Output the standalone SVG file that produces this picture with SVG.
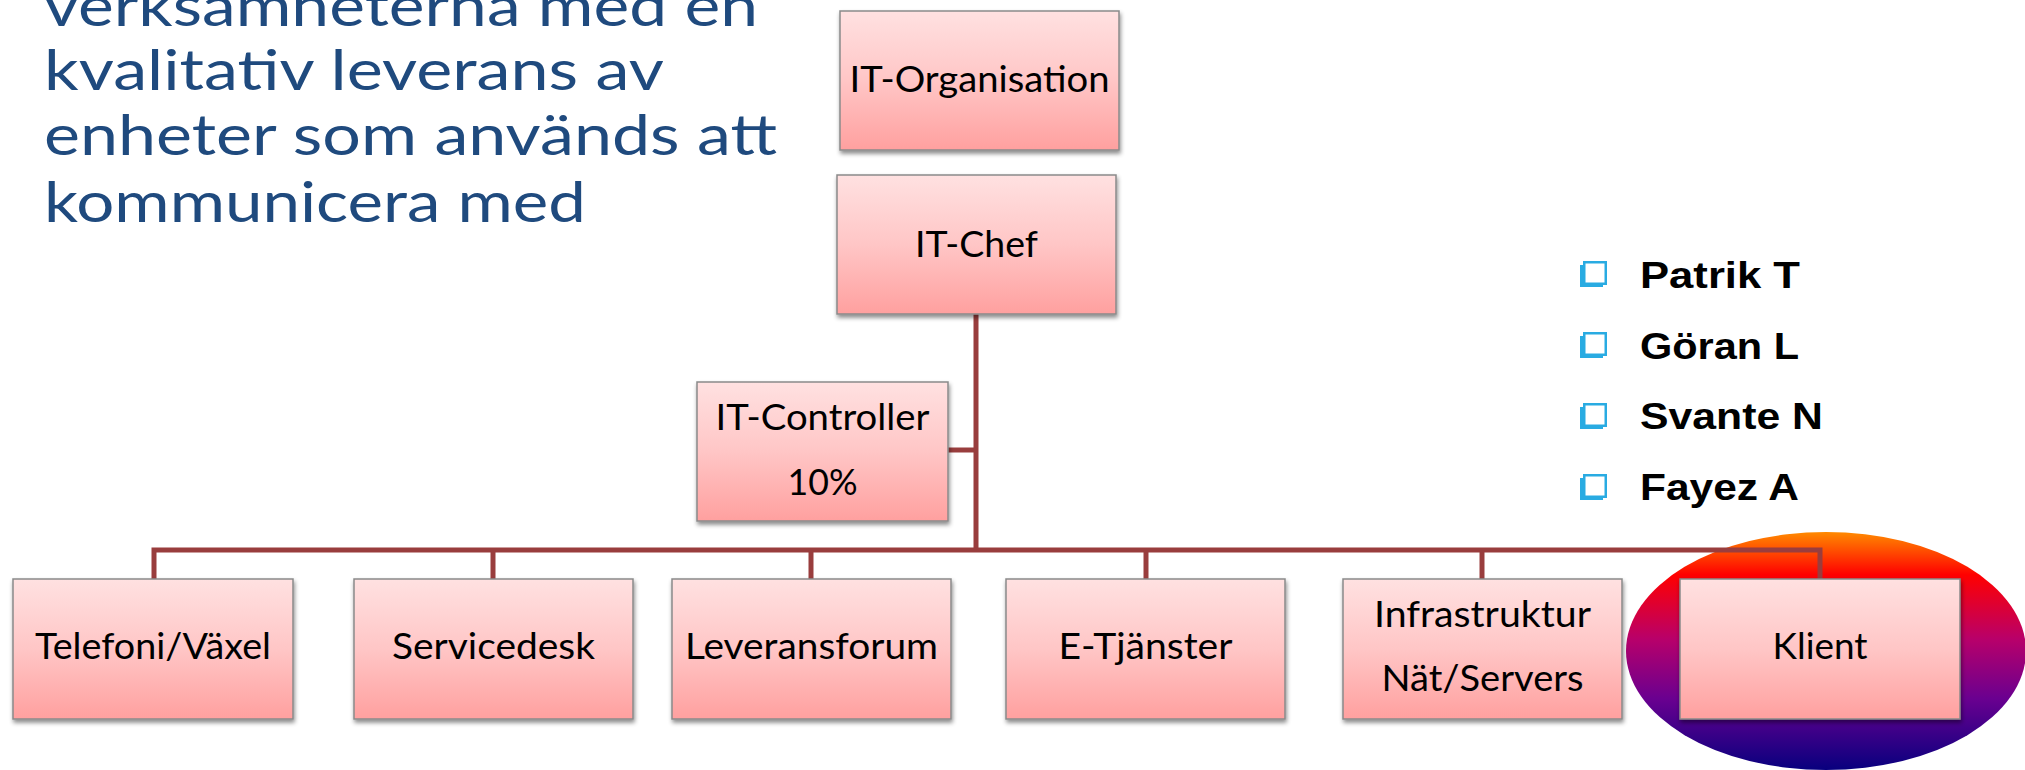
<svg xmlns="http://www.w3.org/2000/svg" width="2025" height="770" viewBox="0 0 2025 770">
<defs>
<linearGradient id="boxFill" x1="0" y1="0" x2="0" y2="1">
<stop offset="0" stop-color="#FFE1E1"/>
<stop offset="0.5" stop-color="#FFC6C6"/>
<stop offset="1" stop-color="#FFA09F"/>
</linearGradient>
<linearGradient id="ovalFill" x1="0" y1="0" x2="0" y2="1">
<stop offset="0" stop-color="#FF8A00"/>
<stop offset="0.18" stop-color="#FF0000"/>
<stop offset="0.45" stop-color="#B8006A"/>
<stop offset="0.7" stop-color="#6A0090"/>
<stop offset="1" stop-color="#08007E"/>
</linearGradient>
<filter id="shadow" x="-10%" y="-10%" width="120%" height="130%">
<feDropShadow dx="1" dy="3" stdDeviation="2" flood-color="#000" flood-opacity="0.45"/>
</filter>
</defs>
<style>
.box{fill:url(#boxFill);stroke:#8A8A8A;stroke-width:1.5;filter:url(#shadow)}
.lbl{font-family:Lato,"Open Sans",sans-serif;font-size:36px;fill:#000;text-anchor:middle}
.title{font-family:Lato,"Open Sans",sans-serif;font-size:56px;fill:#1F4A7E}
.name{font-family:"Liberation Sans",Arial,sans-serif;font-weight:bold;font-size:37px;fill:#000}
.conn{stroke:#993D3D;stroke-width:5;fill:none}
.bshadow{fill:#29ABE2}
.bfront{fill:#fff;stroke:#29ABE2;stroke-width:2.5}
</style>
<rect width="2025" height="770" fill="#fff"/>

<g id="title">
<text class="title" x="44" y="26" textLength="714" lengthAdjust="spacingAndGlyphs">verksamheterna med en</text>
<text class="title" x="44" y="90" textLength="620" lengthAdjust="spacingAndGlyphs">kvalitativ leverans av</text>
<text class="title" x="44" y="155" textLength="733" lengthAdjust="spacingAndGlyphs">enheter som används att</text>
<text class="title" x="44" y="222" textLength="542" lengthAdjust="spacingAndGlyphs">kommunicera med</text>
</g>

<g id="names">
<rect class="bshadow" x="1580" y="265" width="23" height="22"/><rect class="bfront" x="1584.25" y="262.25" width="21.5" height="21.5"/>
<text class="name" x="1640" y="288" textLength="160" lengthAdjust="spacingAndGlyphs">Patrik T</text>
<rect class="bshadow" x="1580" y="336" width="23" height="22"/><rect class="bfront" x="1584.25" y="333.25" width="21.5" height="21.5"/>
<text class="name" x="1640" y="359" textLength="159" lengthAdjust="spacingAndGlyphs">Göran L</text>
<rect class="bshadow" x="1580" y="407" width="23" height="22"/><rect class="bfront" x="1584.25" y="404.25" width="21.5" height="21.5"/>
<text class="name" x="1640" y="429" textLength="183" lengthAdjust="spacingAndGlyphs">Svante N</text>
<rect class="bshadow" x="1580" y="478" width="23" height="22"/><rect class="bfront" x="1584.25" y="475.25" width="21.5" height="21.5"/>
<text class="name" x="1640" y="500" textLength="159" lengthAdjust="spacingAndGlyphs">Fayez A</text>
</g>

<ellipse id="highlight" cx="1826" cy="651" rx="200" ry="119" fill="url(#ovalFill)"/>

<g id="connectors">
<path class="conn" d="M976,314 V550"/>
<path class="conn" d="M948,450 H976"/>
<path class="conn" d="M154,579 V550 H1820 V579"/>
<path class="conn" d="M493,550 V579"/>
<path class="conn" d="M811,550 V579"/>
<path class="conn" d="M1146,550 V579"/>
<path class="conn" d="M1482,550 V579"/>
</g>

<g id="it-organisation">
<rect class="box" x="840" y="11" width="279" height="139"/>
<text class="lbl" x="979.5" y="92" textLength="260" lengthAdjust="spacingAndGlyphs">IT-Organisation</text>
</g>
<g id="it-chef">
<rect class="box" x="837" y="175" width="279" height="139"/>
<text class="lbl" x="976.5" y="257" textLength="123" lengthAdjust="spacingAndGlyphs">IT-Chef</text>
</g>
<g id="it-controller">
<rect class="box" x="697" y="382" width="251" height="139"/>
<text class="lbl" x="822.5" y="430" textLength="214" lengthAdjust="spacingAndGlyphs">IT-Controller</text>
<text class="lbl" x="822.5" y="495" textLength="70" lengthAdjust="spacingAndGlyphs">10%</text>
</g>
<g id="telefoni">
<rect class="box" x="13" y="579" width="280" height="140"/>
<text class="lbl" x="153" y="659" textLength="236" lengthAdjust="spacingAndGlyphs">Telefoni/Växel</text>
</g>
<g id="servicedesk">
<rect class="box" x="354" y="579" width="279" height="140"/>
<text class="lbl" x="493.5" y="659" textLength="203" lengthAdjust="spacingAndGlyphs">Servicedesk</text>
</g>
<g id="leveransforum">
<rect class="box" x="672" y="579" width="279" height="140"/>
<text class="lbl" x="811.5" y="659" textLength="253" lengthAdjust="spacingAndGlyphs">Leveransforum</text>
</g>
<g id="e-tjanster">
<rect class="box" x="1006" y="579" width="279" height="140"/>
<text class="lbl" x="1145.5" y="659" textLength="174" lengthAdjust="spacingAndGlyphs">E-Tjänster</text>
</g>
<g id="infrastruktur">
<rect class="box" x="1343" y="579" width="279" height="140"/>
<text class="lbl" x="1482.5" y="627" textLength="217" lengthAdjust="spacingAndGlyphs">Infrastruktur</text>
<text class="lbl" x="1482.5" y="691" textLength="202" lengthAdjust="spacingAndGlyphs">Nät/Servers</text>
</g>
<g id="klient">
<rect class="box" x="1680" y="579" width="280" height="140"/>
<text class="lbl" x="1820" y="659" textLength="95" lengthAdjust="spacingAndGlyphs">Klient</text>
</g>
</svg>
